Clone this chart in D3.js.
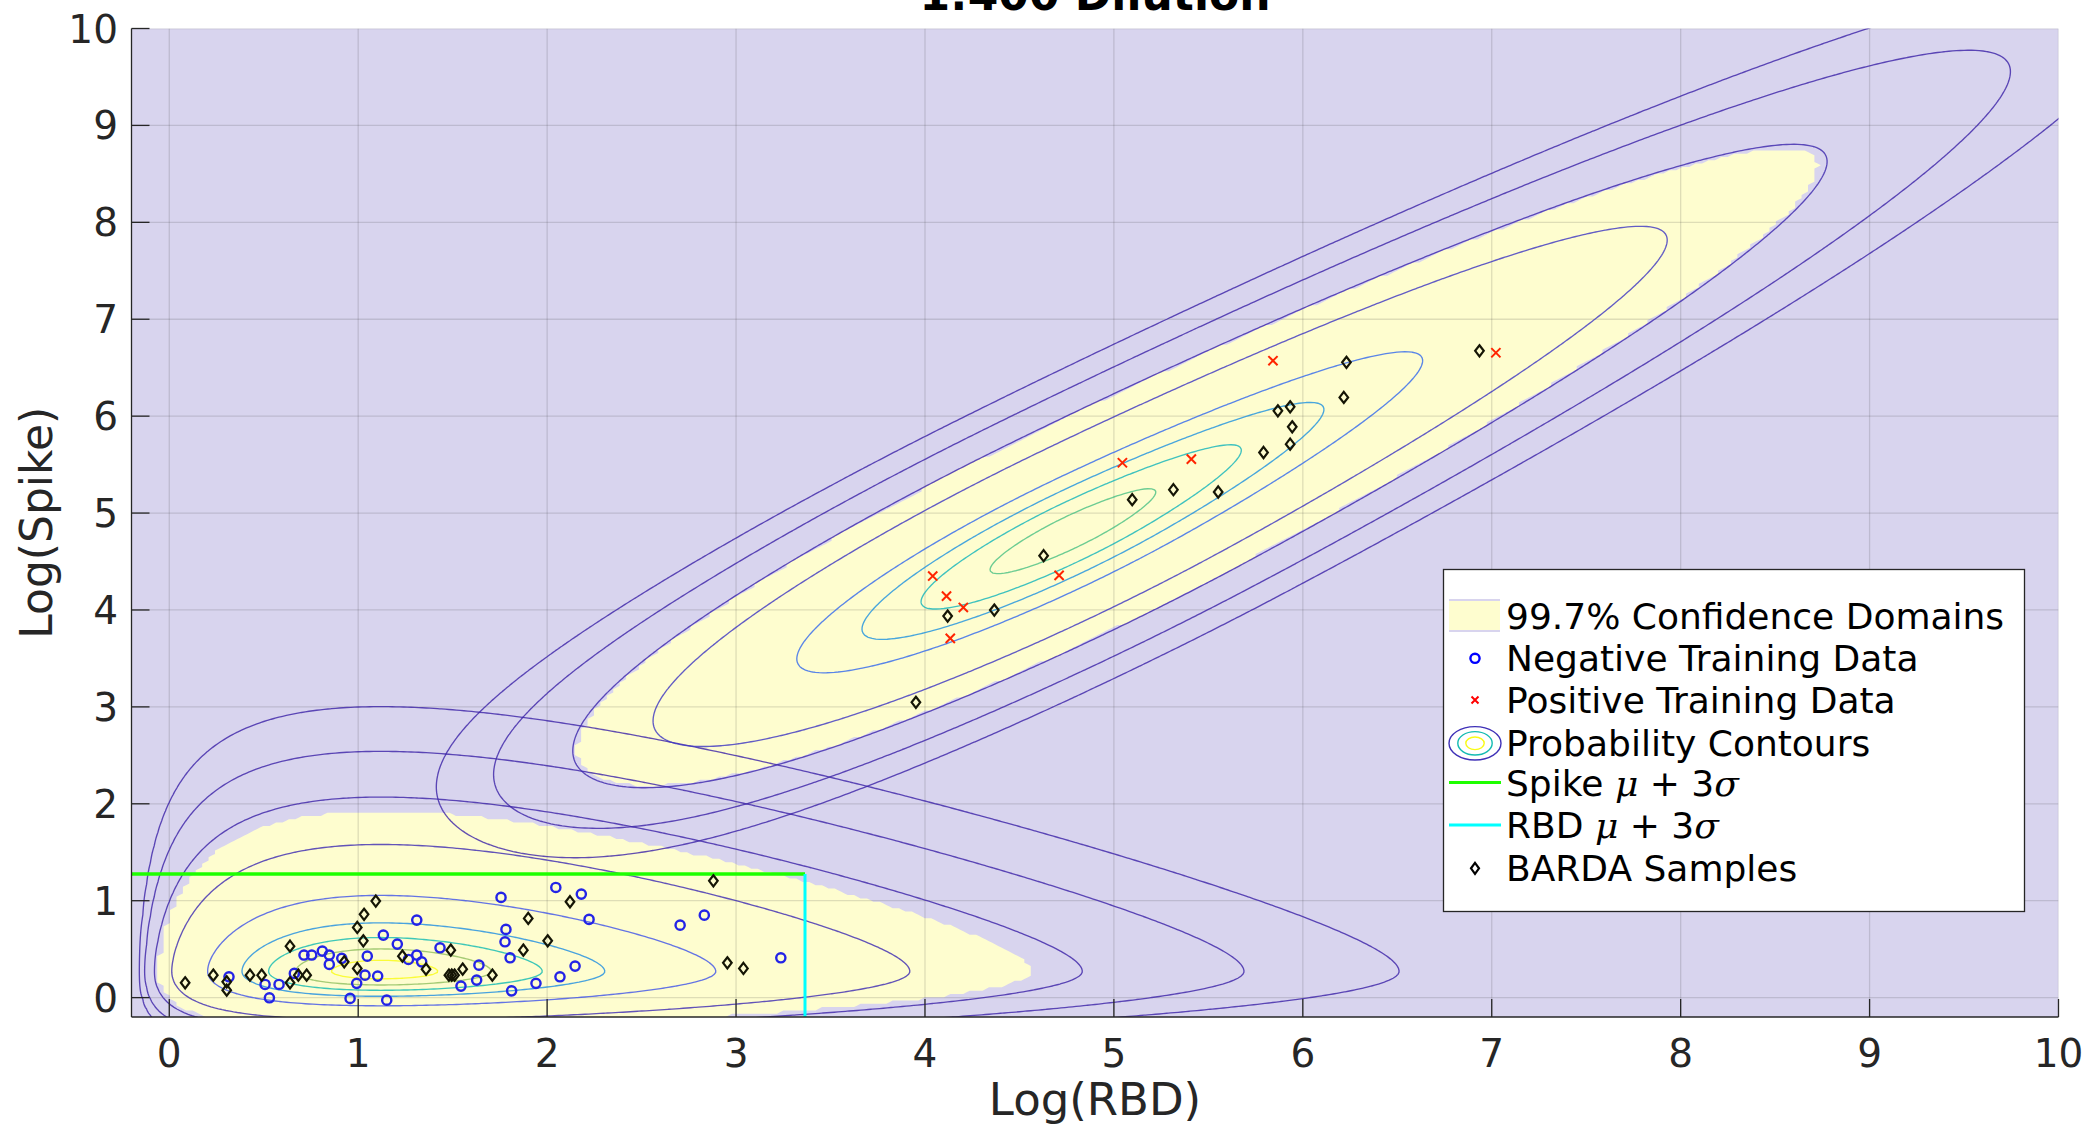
<!DOCTYPE html>
<html>
<head>
<meta charset="utf-8">
<title>1:400 Dilution</title>
<script src="https://cdn.jsdelivr.net/npm/d3@7/dist/d3.min.js"></script>
<style>
  html, body { margin: 0; padding: 0; background: #ffffff; }
  svg { display: block; }
  text { font-family: "DejaVu Sans", "Liberation Sans", sans-serif; fill: #262626; }
</style>
</head>
<body>
<svg id="chart" width="2089" height="1125"></svg>
<script>
// ---------- axis ticks ----------
const xTickValues = [0, 1, 2, 3, 4, 5, 6, 7, 8, 9, 10];
const yTickValues = [0, 1, 2, 3, 4, 5, 6, 7, 8, 9, 10];

// ---------- measurements: Log(RBD) and Log(Spike) ----------
const negativeRBD = [0.316, 0.507, 0.530, 0.581, 0.662, 0.713, 0.754, 0.810, 0.847, 0.847, 0.913, 0.957,
  0.992, 1.048, 1.036, 1.103, 1.133, 1.151, 1.207, 1.266, 1.310, 1.310, 1.336, 1.433, 1.544, 1.627,
  1.639, 1.756, 1.782, 1.777, 1.804, 1.812, 1.941, 2.046, 2.068, 2.148, 2.181, 2.222, 2.704, 2.832, 3.237];
const negativeSpike = [0.215, 0.136, -0.002, 0.136, 0.250, 0.439, 0.439, 0.480, 0.439, 0.343, 0.405, -0.008,
  0.147, 0.428, 0.232, 0.222, 0.645, -0.026, 0.552, 0.394, 0.800, 0.439, 0.369, 0.514, 0.119, 0.181,
  0.335, 1.034, 0.704, 0.576, 0.411, 0.070, 0.147, 1.137, 0.215, 0.325, 1.068, 0.807, 0.748, 0.851, 0.411];

const positiveRBD = [5.842, 5.045, 5.410, 4.041, 4.114, 4.203, 4.134, 4.710, 7.022];
const positiveSpike = [6.572, 5.519, 5.557, 4.350, 4.143, 4.026, 3.707, 4.357, 6.654];

const bardaRBD = [0.084, 0.233, 0.304, 0.304, 0.427, 0.489, 0.639, 0.639, 0.683, 0.727, 0.926, 0.995,
  0.995, 1.027, 1.031, 1.093, 1.234, 1.359, 1.480, 1.495, 1.510, 1.490, 1.553, 1.710, 1.874, 1.900,
  2.003, 2.121, 2.880, 2.954, 3.039,
  3.952, 4.120, 4.367, 4.628, 5.097, 5.315, 5.552, 5.792, 5.868, 5.933, 5.944, 5.933, 6.217, 6.231, 6.935];
const bardaSpike = [0.153, 0.232, 0.163, 0.077, 0.232, 0.232, 0.531, 0.153, 0.232, 0.232, 0.369, 0.301,
  0.724, 0.586, 0.859, 0.996, 0.428, 0.294, 0.232, 0.232, 0.232, 0.490, 0.294, 0.232, 0.490, 0.817,
  0.586, 0.989, 1.205, 0.359, 0.301,
  3.047, 3.937, 3.999, 4.560, 5.138, 5.241, 5.217, 5.625, 6.055, 6.096, 5.890, 5.711, 6.193, 6.555, 6.674];

// ---------- negative-population cut-offs (mean + 3 sd) ----------
const spikeCutoff = 1.275;
const rbdCutoff = 3.365;

// ---------- fitted class models ----------
// negative class, RBD marginal (gamma type): [shift, mode, rate]
const negRbdGamma = [-0.2, 1.12, 3.55];
// negative class, Spike marginal: [shift, mode, rate above mode, sd below mode]
const negSpikeGamma = [0.0, 0.27, 5.53, 0.165];
// positive class: skewed along its main axis, gaussian across it
const posMode = [4.78, 4.81];            // mode (RBD, Spike)
const posAxisAngle = 45;                 // degrees
const posAcrossSd = 0.29;
const posAlongSdUpper = [1.15, 0.75, 2.2];       // base, growth, length scale
const posAlongSdLower = [1.31, 0.26, 4.63, 3.8]; // base, shrink, length scale, power

// contour levels, as fractions of each class peak
const negContourFractions = [0.9, 0.7, 0.5, 0.3, 0.1, 1e-2, 1e-3, 1e-4, 1e-5];
const posContourFractions = [0.9, 0.7, 0.5, 0.3, 0.05, 1e-2, 1e-3, 1e-4];
// colormap positions of the contour lines, innermost first
const negLineTones = [1.0, 0.7, 0.5, 0.32, 0.13, 0.02, 0, 0, 0];
const posLineTones = [0.6, 0.47, 0.33, 0.2, 0.05, 0.01, 0, 0];
// density level (fraction of class peak) bounding each 99.7% domain
const domainFractions = [0.002, 0.0111];

// ---------- layout ----------
const svg = d3.select("#chart");
const plotLeft = 131.5, plotRight = 2058.5, plotTop = 28.5, plotBottom = 1017;
const x = d3.scaleLinear().domain([-0.2, 10]).range([plotLeft, plotRight]);
const y = d3.scaleLinear().domain([-0.2, 10]).range([plotBottom, plotTop]);

const bgColor = "#d8d4ee";
const domainColor = "#fefdcf";
const parula = d3.piecewise(d3.interpolateRgb, ["#3e26a8", "#4354e8", "#2b79f0", "#1aa0d6",
  "#13bbb2", "#5ac37a", "#b5be4e", "#f6c43b", "#f9fb15"]);

// ---------- densities (peak = 1) ----------
function negDensity(rx, sy) {
  const [ax, mx, bx] = negRbdGamma;
  const [ay, my, by, sl] = negSpikeGamma;
  if (rx <= ax) return 0;
  const hx = bx * ((mx - ax) * Math.log((rx - ax) / (mx - ax)) - (rx - mx));
  let hy;
  if (sy >= my) hy = by * ((my - ay) * Math.log((sy - ay) / (my - ay)) - (sy - my));
  else hy = -((sy - my) * (sy - my)) / (2 * sl * sl);
  return Math.exp(hx + hy);
}
const posCos = Math.cos(posAxisAngle * Math.PI / 180), posSin = Math.sin(posAxisAngle * Math.PI / 180);
function posAlongSd(s) {
  if (s >= 0) {
    const [b, g, l] = posAlongSdUpper;
    return b + g * (1 - Math.exp(-s / l));
  }
  const [b, k, l, p] = posAlongSdLower;
  return b * Math.exp(-k * Math.pow(-s / l, p));
}
function posDensity(rx, sy) {
  const dx = rx - posMode[0], dy = sy - posMode[1];
  const s = dx * posCos + dy * posSin, t = -dx * posSin + dy * posCos;
  const sd = posAlongSd(s);
  return Math.exp(-0.5 * (s * s / (sd * sd) + t * t / (posAcrossSd * posAcrossSd)));
}

// ---------- clip ----------
const defs = svg.append("defs");
defs.append("clipPath").attr("id", "plotClip").append("rect")
  .attr("x", plotLeft).attr("y", plotTop).attr("width", plotRight - plotLeft).attr("height", plotBottom - plotTop);
const plot = svg.append("g").attr("clip-path", "url(#plotClip)");

plot.append("rect").attr("x", plotLeft).attr("y", plotTop)
  .attr("width", plotRight - plotLeft).attr("height", plotBottom - plotTop).attr("fill", bgColor);

// ---------- confidence domains (raster) ----------
const nCells = 300, cell = 10.2 / nCells;
const domainVals = new Float64Array(nCells * nCells);
for (let j = 0; j < nCells; j++) {
  const sv = -0.2 + (j + 0.5) * cell;
  for (let i = 0; i < nCells; i++) {
    const rv = -0.2 + (i + 0.5) * cell;
    domainVals[i + j * nCells] =
      (negDensity(rv, sv) >= domainFractions[0] || posDensity(rv, sv) >= domainFractions[1]) ? 1 : 0;
  }
}
const cellProj = d3.geoTransform({
  point(px, py) { this.stream.point(x(-0.2 + px * cell), y(-0.2 + py * cell)); }
});
plot.append("g").selectAll("path")
  .data(d3.contours().size([nCells, nCells]).smooth(false).thresholds([0.5])(domainVals))
  .join("path").attr("d", d3.geoPath(cellProj)).attr("fill", domainColor);

// ---------- grid ----------
const grid = plot.append("g").attr("stroke", "rgba(38,38,38,0.15)").attr("stroke-width", 1.3);
grid.selectAll("line.gx").data(xTickValues).join("line").attr("class", "gx")
  .attr("x1", d => x(d)).attr("x2", d => x(d)).attr("y1", plotTop).attr("y2", plotBottom);
grid.selectAll("line.gy").data(yTickValues).join("line").attr("class", "gy")
  .attr("y1", d => y(d)).attr("y2", d => y(d)).attr("x1", plotLeft).attr("x2", plotRight);

// ---------- probability contours ----------
const g0 = -1, gStep = 0.02, gN = 640;
function sampleGrid(fn) {
  const vals = new Float64Array(gN * gN);
  for (let j = 0; j < gN; j++) {
    const sv = g0 + j * gStep;
    for (let i = 0; i < gN; i++) vals[i + j * gN] = fn(g0 + i * gStep, sv);
  }
  return vals;
}
const lineProj = d3.geoTransform({
  point(px, py) { this.stream.point(x(g0 + (px - 0.5) * gStep), y(g0 + (py - 0.5) * gStep)); }
});
const linePath = d3.geoPath(lineProj);
[[negDensity, negContourFractions, negLineTones], [posDensity, posContourFractions, posLineTones]]
  .forEach(([fn, fracs, tones]) => {
    const vals = sampleGrid(fn);
    const peak = d3.max(vals);
    const sets = d3.contours().size([gN, gN]).thresholds(fracs.map(f => f * peak))(vals);
    // pair each contour with the tone of its level (fractions are listed innermost first)
    const toneOf = new Map(fracs.map((f, k) => [f, tones[k]]));
    plot.append("g").attr("fill", "none").selectAll("path")
      .data(sets).join("path")
      .attr("d", linePath)
      .attr("stroke", d => {
        const f = fracs.reduce((a, b) => Math.abs(b - d.value / peak) < Math.abs(a - d.value / peak) ? b : a);
        return parula(toneOf.get(f));
      })
      .attr("stroke-width", 1.35)
      .attr("stroke-opacity", 0.82);
  });

// ---------- cut-off lines ----------
plot.append("line").attr("x1", plotLeft).attr("x2", x(rbdCutoff))
  .attr("y1", y(spikeCutoff)).attr("y2", y(spikeCutoff))
  .attr("stroke", "#1eff00").attr("stroke-width", 3.5);
plot.append("line").attr("x1", x(rbdCutoff)).attr("x2", x(rbdCutoff))
  .attr("y1", y(spikeCutoff)).attr("y2", plotBottom)
  .attr("stroke", "#00ffff").attr("stroke-width", 3);

// ---------- markers ----------
const diamond = "M0,-5.6 L4.3,0 L0,5.6 L-4.3,0 Z";
const cross = "M-4.6,-4.6 L4.6,4.6 M-4.6,4.6 L4.6,-4.6";
plot.append("g").selectAll("circle").data(d3.zip(negativeRBD, negativeSpike)).join("circle")
  .attr("cx", d => x(d[0])).attr("cy", d => y(d[1])).attr("r", 4.6)
  .attr("fill", "none").attr("stroke", "#2323e6").attr("stroke-width", 2.4);
plot.append("g").selectAll("path").data(d3.zip(positiveRBD, positiveSpike)).join("path")
  .attr("transform", d => `translate(${x(d[0])},${y(d[1])})`).attr("d", cross)
  .attr("fill", "none").attr("stroke", "#ff2400").attr("stroke-width", 2);
plot.append("g").selectAll("path").data(d3.zip(bardaRBD, bardaSpike)).join("path")
  .attr("transform", d => `translate(${x(d[0])},${y(d[1])})`).attr("d", diamond)
  .attr("fill", "none").attr("stroke", "#151505").attr("stroke-width", 2.2);

// ---------- axes ----------
const axisColor = "#262626";
const axes = svg.append("g");
axes.append("line").attr("x1", plotLeft).attr("x2", plotLeft).attr("y1", plotTop).attr("y2", plotBottom)
  .attr("stroke", axisColor).attr("stroke-width", 1.3);
axes.append("line").attr("x1", plotLeft).attr("x2", plotRight).attr("y1", plotBottom).attr("y2", plotBottom)
  .attr("stroke", axisColor).attr("stroke-width", 1.3);
axes.selectAll("line.tx").data(xTickValues).join("line").attr("class", "tx")
  .attr("x1", d => x(d)).attr("x2", d => x(d)).attr("y1", plotBottom).attr("y2", plotBottom - 18)
  .attr("stroke", axisColor).attr("stroke-width", 1.3);
axes.selectAll("line.ty").data(yTickValues).join("line").attr("class", "ty")
  .attr("y1", d => y(d)).attr("y2", d => y(d)).attr("x1", plotLeft).attr("x2", plotLeft + 18)
  .attr("stroke", axisColor).attr("stroke-width", 1.3);
axes.selectAll("text.tlx").data(xTickValues).join("text").attr("class", "tlx")
  .attr("x", d => x(d)).attr("y", 1066.5).attr("text-anchor", "middle")
  .attr("font-size", 39).text(d => d);
axes.selectAll("text.tly").data(yTickValues).join("text").attr("class", "tly")
  .attr("x", 118).attr("y", d => y(d) + 14).attr("text-anchor", "end")
  .attr("font-size", 39).text(d => d);

svg.append("text").attr("x", (plotLeft + plotRight) / 2).attr("y", 1115)
  .attr("text-anchor", "middle").attr("font-size", 45).text("Log(RBD)");
svg.append("text").attr("transform", `translate(36,${(plotTop + plotBottom) / 2}) rotate(-90)`)
  .attr("text-anchor", "middle").attr("dominant-baseline", "central")
  .attr("font-size", 44).text("Log(Spike)");
svg.append("text").attr("x", (plotLeft + plotRight) / 2).attr("y", 10)
  .attr("text-anchor", "middle").attr("font-size", 44).attr("font-weight", "bold")
  .style("fill", "#000").text("1:400 Dilution");

// ---------- legend ----------
const legend = svg.append("g");
legend.append("rect").attr("x", 1443.5).attr("y", 569.5).attr("width", 581).attr("height", 342)
  .attr("fill", "#ffffff").attr("stroke", axisColor).attr("stroke-width", 1.3);
const iconX = 1475, textX = 1506;
const rows = [615.8, 658.3, 700, 743.3, 782.5, 825, 868.3];
legend.append("rect").attr("x", 1449).attr("y", 599).attr("width", 51).attr("height", 33).attr("fill", domainColor);
legend.append("line").attr("x1", 1449).attr("x2", 1500).attr("y1", 600).attr("y2", 600).attr("stroke", bgColor).attr("stroke-width", 2);
legend.append("line").attr("x1", 1449).attr("x2", 1500).attr("y1", 631).attr("y2", 631).attr("stroke", bgColor).attr("stroke-width", 2);
legend.append("circle").attr("cx", iconX).attr("cy", rows[1]).attr("r", 4.6)
  .attr("fill", "none").attr("stroke", "#0000ff").attr("stroke-width", 2.4);
legend.append("path").attr("transform", `translate(${iconX},${rows[2]})`).attr("d", "M-3.5,-3.5 L3.5,3.5 M-3.5,3.5 L3.5,-3.5")
  .attr("fill", "none").attr("stroke", "#ff0000").attr("stroke-width", 2);
[[26, 16.7, parula(0.03)], [17.2, 11.7, parula(0.5)], [9.2, 6.3, parula(1)]].forEach(([rx, ry, c]) => {
  legend.append("ellipse").attr("cx", iconX).attr("cy", rows[3]).attr("rx", rx).attr("ry", ry)
    .attr("fill", "none").attr("stroke", c).attr("stroke-width", 1.4);
});
legend.append("line").attr("x1", 1449).attr("x2", 1501).attr("y1", rows[4]).attr("y2", rows[4])
  .attr("stroke", "#1eff00").attr("stroke-width", 3);
legend.append("line").attr("x1", 1449).attr("x2", 1501).attr("y1", rows[5]).attr("y2", rows[5])
  .attr("stroke", "#00ffff").attr("stroke-width", 3);
legend.append("path").attr("transform", `translate(${iconX},${rows[6]})`).attr("d", "M0,-5.5 L4,0 L0,5.5 L-4,0 Z")
  .attr("fill", "none").attr("stroke", "#000").attr("stroke-width", 2.2);

const legendTexts = ["99.7% Confidence Domains", "Negative Training Data", "Positive Training Data",
  "Probability Contours", null, null, "BARDA Samples"];
legendTexts.forEach((t, k) => {
  if (!t) return;
  legend.append("text").attr("x", textX).attr("y", rows[k] + 13).attr("font-size", 36)
    .style("fill", "#000").text(t);
});
function greekRow(label, row) {
  const t = legend.append("text").attr("x", textX).attr("y", row + 13).attr("font-size", 36).style("fill", "#000");
  t.append("tspan").text(label + " ");
  t.append("tspan").attr("font-family", "'DejaVu Serif', serif").attr("font-style", "italic").text("\u03bc");
  t.append("tspan").text(" + 3");
  t.append("tspan").attr("font-family", "'DejaVu Serif', serif").attr("font-style", "italic").text("\u03c3");
}
greekRow("Spike", rows[4]);
greekRow("RBD", rows[5]);
</script>
</body>
</html>
